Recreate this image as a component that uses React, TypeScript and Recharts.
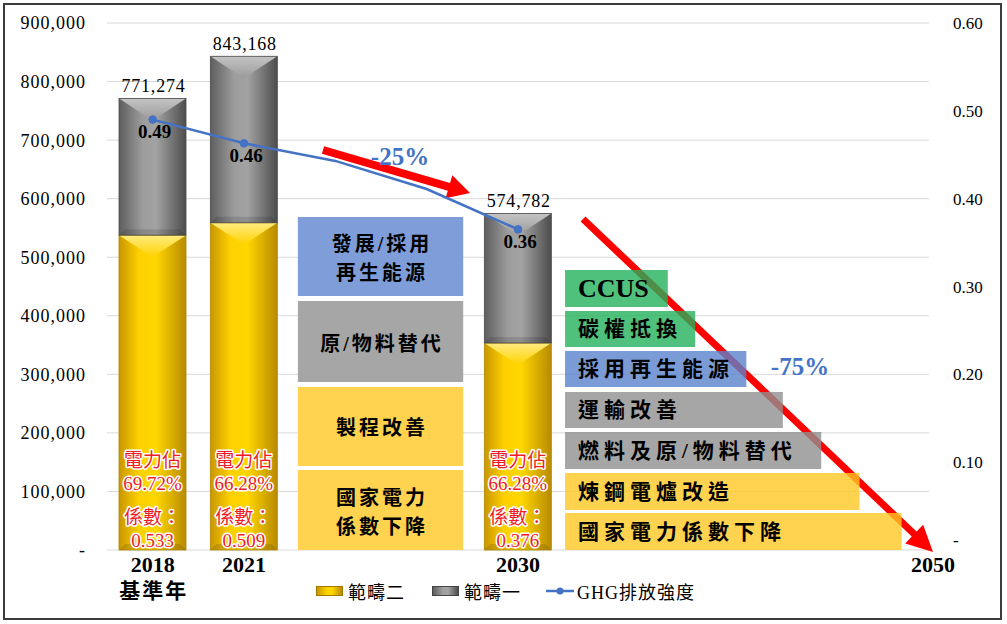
import React from 'react';
import {
  ComposedChart,
  Bar,
  Line,
  XAxis,
  YAxis,
  CartesianGrid,
  ReferenceArea,
  ReferenceDot,
  LabelList,
  Legend,
} from 'recharts';

// ---------- data ----------
const categories = ['2018', '2021', '', '', '2030'];
const categorySubLabels = ['基準年', '', '', '', ''];
const scope2Values = [537732, 558852, null, null, 353500];
const scope1Values = [233542, 284316, null, null, 221282];
const totalValues = [771274, 843168, null, null, 574782];
const ghgIntensity = [0.49, 0.463, 0.443, 0.411, 0.365];
const ghgLabels = ['0.49', '0.46', '', '', '0.36'];
const powerShareLabels = ['69.72%', '66.28%', '', '', '66.28%'];
const powerCoefLabels = ['0.533', '0.509', '', '', '0.376'];
const leftTicks = [0, 100000, 200000, 300000, 400000, 500000, 600000, 700000, 800000, 900000];
const rightTicks = [0, 0.1, 0.2, 0.3, 0.4, 0.5, 0.6];
const finalYearLabel = '2050';
const seriesNames = ['範疇二', '範疇一', 'GHG排放強度'];

// 2030 reduction measures (middle boxes)
const midMeasureLabels = [['發展/採用', '再生能源'], ['原/物料替代'], ['製程改善'], ['國家電力', '係數下降']];
const midMeasureRanges = [
  [433800, 568700],
  [286900, 425200],
  [143500, 278400],
  [0, 136600],
];
const midMeasureSpan = [2.59, 4.4];

// 2050 net-zero measures (right boxes)
const netZeroLabels = ['CCUS', '碳權抵換', '採用再生能源', '運輸改善', '燃料及原/物料替代', '煉鋼電爐改造', '國家電力係數下降'];
const netZeroStart = 5.515;
const netZeroEnds = [6.64, 6.94, 7.5, 7.9, 8.32, 8.74, 9.2];
const netZeroRanges = [
  [415000, 478200],
  [346700, 408200],
  [278400, 339900],
  [208400, 269800],
  [138300, 201500],
  [68300, 131500],
  [0, 63200],
];

// trend arrows and their labels
const trendArrows = [
  { x1: 2.865, x2: 4.475, y1: 609700, y2: 683100, half: 4, head: 12, len: 22 },
  { x1: 5.712, x2: 9.544, y1: -3400, y2: 565300, half: 3.5, head: 13, len: 26 },
];
const trendLabels = [
  { text: '-25%', x: 3.708, y: 671200 },
  { text: '-75%', x: 8.088, y: 314200 },
];

const data = categories.map((c, i) => ({
  pos: i + 1,
  name: c,
  scope2: scope2Values[i],
  scope1: scope1Values[i],
  total: totalValues[i],
  ghg: ghgIntensity[i],
}));

// ---------- styles ----------
const SERIF = "'Liberation Serif', 'Times New Roman', 'Noto Sans CJK TC', serif";
const CJK = "'Liberation Serif', 'Noto Sans CJK TC', sans-serif";
const BLUE = '#4472c4';
const RED_TXT = '#f01c24';
const midColors = ['#7f9ed9', '#a6a6a6', '#ffd24f', '#ffd24f'];
const netZeroColors = ['#23b15b', '#23b15b', '#5a82cc', '#909090', '#909090', '#ffc723', '#ffc723'];

const idx = (v: any) => Math.round(Number(v)) - 1;

const makeBarShape = (kind: 's1' | 's2') => (props: any) => {
  const { x, y, width, height } = props;
  if (!height || height <= 0 || !width) return <g />;
  const b = Math.min(22, height * 0.3);
  const body = kind === 's1' ? 'url(#gGray)' : 'url(#gYellow)';
  const top = kind === 's1' ? 'url(#gGrayTop)' : 'url(#gYellowTop)';
  const edge = kind === 's1' ? '#4a4a4a' : '#b08600';
  return (
    <g>
      <rect x={x} y={y} width={width} height={height} fill={body} />
      <polygon points={`${x},${y} ${x + width},${y} ${x + width / 2},${y + b}`} fill={top} />
      <polygon
        points={`${x},${y + height} ${x + width},${y + height} ${x + width - 6},${y + height - 6} ${x + 6},${y + height - 6}`}
        fill="#000"
        fillOpacity={0.12}
      />
      <rect x={x} y={y} width={width} height={height} fill="none" stroke={edge} strokeWidth={0.8} />
    </g>
  );
};

const XTick = (props: any) => {
  const { x, y, payload } = props;
  const i = idx(payload.value);
  return (
    <g>
      <text x={x} y={y + 14} textAnchor="middle" fontSize={22} fontWeight="bold" fill="#000" fontFamily={SERIF}>
        {categories[i]}
      </text>
      {categorySubLabels[i] ? (
        <text x={x + 1} y={y + 40} textAnchor="middle" fontSize={21} fontWeight="bold" fill="#000" fontFamily={CJK} letterSpacing={2}>
          {categorySubLabels[i]}
        </text>
      ) : null}
    </g>
  );
};

const RightTick = (props: any) => {
  const { x, y, payload } = props;
  const v = Number(payload.value);
  const zero = Math.abs(v) < 1e-9;
  return (
    <text x={x} y={zero ? y - 4 : y + 6} textAnchor="start" fontSize={17} fill="#000" fontFamily={SERIF}>
      {zero ? '-' : v.toFixed(2)}
    </text>
  );
};

const TotalLabel = (props: any) => {
  const { x, y, width, value } = props;
  const i = idx(value);
  if (totalValues[i] == null) return null;
  return (
    <text x={x + width / 2 + 1} y={y - 6} textAnchor="middle" fontSize={18} letterSpacing={0.8} fill="#000" fontFamily={SERIF}>
      {Number(totalValues[i]).toLocaleString('en-US')}
    </text>
  );
};

const PowerLabel = (props: any) => {
  const { x, y, width, height, value } = props;
  const i = idx(value);
  if (!powerShareLabels[i]) return null;
  const cx = x + width / 2;
  const bottom = y + height;
  const common = {
    textAnchor: 'middle' as const,
    fill: RED_TXT,
    stroke: '#fff',
    strokeWidth: 3,
    paintOrder: 'stroke' as any,
    strokeLinejoin: 'round' as const,
  };
  return (
    <g>
      <text {...common} x={cx} y={bottom - 83} fontSize={19} fontFamily="'Noto Sans CJK TC', sans-serif">電力佔</text>
      <text {...common} x={cx} y={bottom - 60.5} fontSize={19} fontFamily={SERIF}>{powerShareLabels[i]}</text>
      <text {...common} x={cx} y={bottom - 26} fontSize={19} fontFamily="'Noto Sans CJK TC', sans-serif">係數：</text>
      <text {...common} x={cx} y={bottom - 3.5} fontSize={19} fontFamily={SERIF}>{powerCoefLabels[i]}</text>
    </g>
  );
};

const GhgLabel = (props: any) => {
  const { x, y, value } = props;
  const i = idx(value);
  if (!ghgLabels[i]) return null;
  return (
    <text x={x + 2} y={y + 18.5} textAnchor="middle" fontSize={19} fontWeight="bold" fill="#000" fontFamily={SERIF}>
      {ghgLabels[i]}
    </text>
  );
};

const GhgDot = (props: any) => {
  const { cx, cy, payload } = props;
  const i = idx(payload?.pos);
  if (!ghgLabels[i]) return <g key={`d${i}`} />;
  return <circle key={`d${i}`} cx={cx} cy={cy} r={3.8} fill={BLUE} stroke={BLUE} />;
};

const makeMidLabel = (lines: string[]) => (props: any) => {
  const vb = props.viewBox || {};
  const cx = vb.x + vb.width / 2;
  const cy = vb.y + vb.height / 2 + 2;
  const step = 29;
  const start = cy - ((lines.length - 1) * step) / 2;
  return (
    <g>
      {lines.map((t, k) => (
        <text
          key={k}
          x={cx + 1.5}
          y={start + k * step + 7}
          textAnchor="middle"
          fontSize={20}
          fontWeight={600}
          letterSpacing={3}
          fill="#000"
          fontFamily={CJK}
        >
          {t}
        </text>
      ))}
    </g>
  );
};

const makeNetZeroLabel = (text: string) => (props: any) => {
  const vb = props.viewBox || {};
  const cy = vb.y + vb.height / 2;
  const latin = /^[A-Z]+$/.test(text);
  return (
    <text
      x={vb.x + 13}
      y={latin ? cy + 9 : cy + 7.5}
      fontSize={latin ? 26 : 21}
      fontWeight={latin ? 'bold' : 600}
      letterSpacing={latin ? 0 : 5}
      fill="#000"
      fontFamily={latin ? SERIF : CJK}
    >
      {text}
    </text>
  );
};

const makeArrowShape = (half: number, head: number, len: number) => (props: any) => {
  const { x, y, width, height } = props;
  const x1 = x;
  const y1 = y;
  const x2 = x + width;
  const y2 = y + height;
  const ang = Math.atan2(y2 - y1, x2 - x1);
  const c = Math.cos(ang);
  const s = Math.sin(ang);
  const nx = -s;
  const ny = c;
  const bx = x2 - len * c;
  const by = y2 - len * s;
  const pts = [
    [x1 + nx * half, y1 + ny * half],
    [bx + nx * half, by + ny * half],
    [bx + nx * head, by + ny * head],
    [x2, y2],
    [bx - nx * head, by - ny * head],
    [bx - nx * half, by - ny * half],
    [x1 - nx * half, y1 - ny * half],
  ]
    .map((p) => `${p[0]},${p[1]}`)
    .join(' ');
  return <polygon points={pts} fill="#ff0000" />;
};

const TrendText = (text: string) => (props: any) => {
  const vb = props.viewBox || {};
  return (
    <text x={vb.x} y={vb.y + 8.5} textAnchor="middle" fontSize={25} fontWeight="bold" fill={BLUE} fontFamily={SERIF}>
      {text}
    </text>
  );
};

const YearText = (props: any) => {
  const vb = props.viewBox || {};
  return (
    <text x={vb.x} y={vb.y + 22} textAnchor="middle" fontSize={22} fontWeight="bold" fill="#000" fontFamily={SERIF}>
      {finalYearLabel}
    </text>
  );
};

const LegendContent = () => (
  <div
    style={{
      display: 'flex',
      alignItems: 'center',
      height: 26,
      fontFamily: CJK,
      fontSize: 18,
      color: '#000',
      whiteSpace: 'nowrap',
    }}
  >
    <span
      style={{
        display: 'inline-block',
        width: 27,
        height: 10,
        background: 'linear-gradient(to right, #c99700, #ffd400 40%, #ffd700 60%, #b88a00)',
        border: '1px solid #a07800',
        boxSizing: 'border-box',
      }}
    />
    <span style={{ marginLeft: 5, letterSpacing: 1 }}>{seriesNames[0]}</span>
    <span
      style={{
        display: 'inline-block',
        marginLeft: 27,
        width: 27,
        height: 10,
        background: 'linear-gradient(to right, #5e5e5e, #a0a0a0 40%, #a3a3a3 60%, #4d4d4d)',
        border: '1px solid #444',
        boxSizing: 'border-box',
      }}
    />
    <span style={{ marginLeft: 5, letterSpacing: 1 }}>{seriesNames[1]}</span>
    <svg width={28} height={10} style={{ marginLeft: 25 }}>
      <line x1={0} y1={5} x2={28} y2={5} stroke={BLUE} strokeWidth={2.5} />
      <circle cx={14} cy={5} r={3.5} fill={BLUE} />
    </svg>
    <span style={{ marginLeft: 3, letterSpacing: 1 }}>{seriesNames[2]}</span>
  </div>
);

export default function App() {
  return (
    <div style={{ position: 'absolute', left: 0, top: 0, width: 1007, height: 624, background: '#fff' }}>
      <div
        style={{
          position: 'absolute',
          left: 3,
          top: 3,
          width: 999,
          height: 617,
          border: '2px solid #3c3c3c',
          boxSizing: 'border-box',
        }}
      />
      <div style={{ position: 'absolute', left: 0, top: 0 }}>
        <ComposedChart
          width={1007}
          height={624}
          data={data}
          margin={{ top: 23, right: 0, bottom: 18, left: 0 }}
          style={{ fontFamily: SERIF }}
        >
          <defs>
            <linearGradient id="gGray" x1="0" y1="0" x2="1" y2="0">
              <stop offset="0%" stopColor="#5e5e5e" />
              <stop offset="35%" stopColor="#9c9c9c" />
              <stop offset="55%" stopColor="#a3a3a3" />
              <stop offset="100%" stopColor="#4d4d4d" />
            </linearGradient>
            <linearGradient id="gGrayTop" x1="0" y1="0" x2="0" y2="1">
              <stop offset="0%" stopColor="#c4c4c4" />
              <stop offset="100%" stopColor="#9a9a9a" />
            </linearGradient>
            <linearGradient id="gYellow" x1="0" y1="0" x2="1" y2="0">
              <stop offset="0%" stopColor="#c99700" />
              <stop offset="30%" stopColor="#ffd000" />
              <stop offset="55%" stopColor="#ffd700" />
              <stop offset="100%" stopColor="#b88a00" />
            </linearGradient>
            <linearGradient id="gYellowTop" x1="0" y1="0" x2="0" y2="1">
              <stop offset="0%" stopColor="#ffec80" />
              <stop offset="100%" stopColor="#ffd200" />
            </linearGradient>
          </defs>
          <CartesianGrid yAxisId="left" vertical={false} stroke="#d9d9d9" strokeWidth={1} />
          <XAxis
            dataKey="pos"
            type="number"
            domain={[0.5, 9.5]}
            ticks={[1, 2, 5]}
            interval={0}
            allowDataOverflow
            axisLine={false}
            tickLine={false}
            height={30}
            tick={<XTick />}
          />
          <YAxis
            yAxisId="left"
            domain={[0, 900000]}
            ticks={leftTicks}
            interval={0}
            width={107}
            axisLine={false}
            tickLine={false}
            tickMargin={15}
            tick={{ fontSize: 18, fill: '#000', letterSpacing: 1, fontFamily: SERIF }}
            tickFormatter={(v: number) => (v === 0 ? '-' : v.toLocaleString('en-US'))}
          />
          <YAxis
            yAxisId="right"
            orientation="right"
            domain={[0, 0.6]}
            ticks={rightTicks}
            interval={0}
            width={78}
            axisLine={false}
            tickLine={false}
            tickMargin={18}
            tick={<RightTick />}
          />
          <Bar
            yAxisId="left"
            dataKey="scope2"
            stackId="a"
            barSize={67}
            fill="#ffd000"
            name={seriesNames[0]}
            isAnimationActive={false}
            shape={makeBarShape('s2')}
          >
            <LabelList dataKey="pos" content={<PowerLabel />} />
          </Bar>
          <Bar
            yAxisId="left"
            dataKey="scope1"
            stackId="a"
            barSize={67}
            fill="#8c8c8c"
            name={seriesNames[1]}
            isAnimationActive={false}
            shape={makeBarShape('s1')}
          >
            <LabelList dataKey="pos" content={<TotalLabel />} />
          </Bar>

          {midMeasureLabels.map((lines, k) => (
            <ReferenceArea
              key={`mid${k}`}
              yAxisId="left"
              x1={midMeasureSpan[0]}
              x2={midMeasureSpan[1]}
              y1={midMeasureRanges[k][0]}
              y2={midMeasureRanges[k][1]}
              fill={midColors[k]}
              fillOpacity={1}
              stroke="none"
              ifOverflow="visible"
              label={makeMidLabel(lines)}
            />
          ))}

          {trendArrows.map((a, k) => (
            <ReferenceArea
              key={`arrow${k}`}
              yAxisId="left"
              x1={a.x1}
              x2={a.x2}
              y1={a.y1}
              y2={a.y2}
              fill="none"
              stroke="none"
              ifOverflow="visible"
              shape={makeArrowShape(a.half, a.head, a.len)}
            />
          ))}

          {netZeroLabels.map((t, k) => (
            <ReferenceArea
              key={`nz${k}`}
              yAxisId="left"
              x1={netZeroStart}
              x2={netZeroEnds[k]}
              y1={netZeroRanges[k][0]}
              y2={netZeroRanges[k][1]}
              fill={netZeroColors[k]}
              fillOpacity={0.8}
              stroke="none"
              ifOverflow="visible"
              label={makeNetZeroLabel(t)}
            />
          ))}

          {trendLabels.map((t, k) => (
            <ReferenceDot
              key={`tl${k}`}
              yAxisId="left"
              x={t.x}
              y={t.y}
              r={0}
              fill="none"
              stroke="none"
              ifOverflow="visible"
              label={TrendText(t.text)}
            />
          ))}
          <ReferenceDot
            yAxisId="left"
            x={9.545}
            y={0}
            r={0}
            fill="none"
            stroke="none"
            ifOverflow="visible"
            label={YearText}
          />

          <Line
            yAxisId="right"
            dataKey="ghg"
            name={seriesNames[2]}
            stroke={BLUE}
            strokeWidth={2.5}
            dot={GhgDot}
            activeDot={false}
            isAnimationActive={false}
          >
            <LabelList dataKey="pos" content={<GhgLabel />} />
          </Line>

          <Legend
            verticalAlign="bottom"
            align="left"
            wrapperStyle={{ left: 316, top: 578, bottom: 'auto', width: 420, height: 26 }}
            content={() => <LegendContent />}
          />
        </ComposedChart>
      </div>
    </div>
  );
}
